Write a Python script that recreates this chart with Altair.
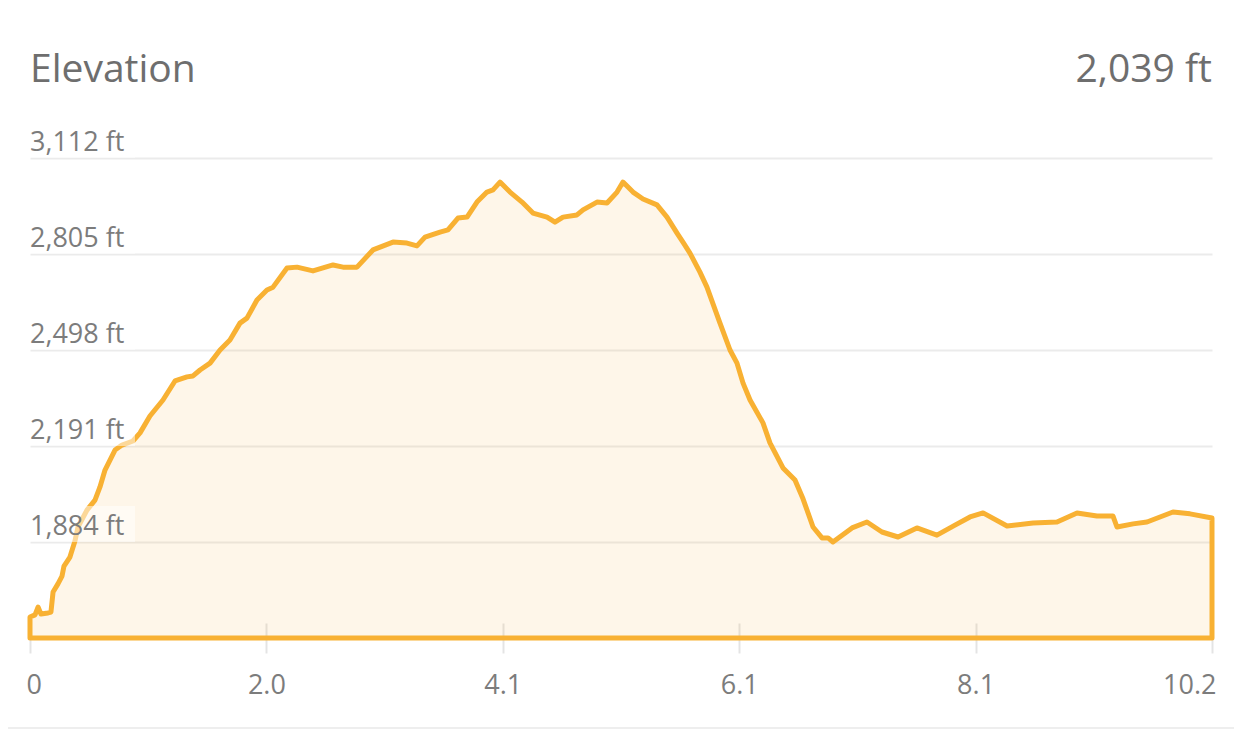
import altair as alt
import pandas as pd

# ---- data ----
DIST = [0.000, 0.043, 0.069, 0.094, 0.155, 0.180, 0.198, 0.240, 0.275, 0.292,
        0.343, 0.386, 0.412, 0.489, 0.558, 0.601, 0.644, 0.687, 0.730, 0.790,
        0.884, 0.945, 1.030, 1.142, 1.245, 1.348, 1.400, 1.460, 1.546, 1.632,
        1.717, 1.803, 1.863, 1.949, 2.035, 2.087, 2.207, 2.293, 2.430, 2.602,
        2.688, 2.808, 2.945, 3.117, 3.237, 3.323, 3.392, 3.521, 3.589, 3.675,
        3.753, 3.838, 3.924, 3.976, 4.036, 4.122, 4.225, 4.319, 4.440, 4.508,
        4.577, 4.697, 4.749, 4.869, 4.955, 5.041, 5.092, 5.178, 5.264, 5.384,
        5.470, 5.556, 5.607, 5.667, 5.753, 5.813, 5.925, 6.011, 6.071, 6.123,
        6.183, 6.294, 6.354, 6.466, 6.569, 6.638, 6.724, 6.801, 6.853, 6.895,
        7.059, 7.187, 7.316, 7.454, 7.616, 7.788, 7.943, 8.072, 8.184, 8.390,
        8.613, 8.819, 8.991, 9.162, 9.300, 9.334, 9.472, 9.592, 9.815, 9.961,
        10.150]
ELEV = [1644, 1651, 1676, 1654, 1657, 1660, 1724, 1750, 1775, 1807,
        1836, 1887, 1932, 1986, 2018, 2060, 2114, 2146, 2178, 2194,
        2207, 2233, 2287, 2338, 2399, 2412, 2415, 2434, 2456, 2498,
        2530, 2584, 2600, 2658, 2690, 2699, 2760, 2763, 2751, 2770,
        2763, 2763, 2818, 2843, 2840, 2831, 2859, 2875, 2882, 2920,
        2923, 2971, 3003, 3010, 3035, 3003, 2971, 2936, 2923, 2907,
        2923, 2930, 2946, 2971, 2968, 3003, 3035, 3003, 2981, 2962,
        2923, 2872, 2843, 2808, 2747, 2699, 2584, 2498, 2456, 2392,
        2338, 2265, 2201, 2121, 2082, 2022, 1932, 1897, 1897, 1884,
        1929, 1948, 1916, 1900, 1929, 1906, 1938, 1964, 1977, 1935,
        1945, 1948, 1977, 1967, 1967, 1932, 1942, 1948, 1980, 1974,
        1961]

Y_TICKS = [1884, 2191, 2498, 2805, 3112]
Y_LABELS = ["1,884 ft", "2,191 ft", "2,498 ft", "2,805 ft", "3,112 ft"]
X_TICKS = [0, 2.03, 4.06, 6.09, 8.12, 10.15]
X_LABELS = ["0", "2.0", "4.1", "6.1", "8.1", "10.2"]
Y_MIN = 1577
Y_MAX = 3112
X_MAX = 10.15
TITLE = "Elevation"
SUMMARY = "2,039 ft"

# ---- styling ----
FONT = "Open Sans"
WEIGHT = 400
ORANGE = "#f8b133"
TEXT_DARK = "#6e6e6e"
TEXT_LIGHT = "#7c7c7c"
W, H = 1182, 480

df = pd.DataFrame({"dist": DIST, "elev": ELEV})
lab = pd.DataFrame({"elev": Y_TICKS, "label": Y_LABELS})

x_expr = "[%s][indexof([%s], datum.value)]" % (
    ",".join("'%s'" % s for s in X_LABELS),
    ",".join(repr(v) for v in X_TICKS),
)

x_scale = alt.Scale(domain=[0, X_MAX], nice=False, zero=False)
y_scale = alt.Scale(domain=[Y_MIN, Y_MAX], nice=False, zero=False)

area = alt.Chart(df).mark_area(
    fill=ORANGE, fillOpacity=0.11, stroke=ORANGE, strokeWidth=5,
    strokeJoin="round", strokeCap="round",
).encode(
    x=alt.X("dist:Q", scale=x_scale, axis=alt.Axis(
        values=X_TICKS, labelExpr=x_expr, orient="bottom", offset=-15,
        tickSize=30, tickColor="#e4e4e4", tickWidth=2, domain=False, grid=False,
        labelFont=FONT, labelFontSize=27, labelFontWeight=WEIGHT,
        labelColor=TEXT_LIGHT,
        labelPadding=40, labelBaseline="alphabetic",
        labelFlush=True, labelFlushOffset=4, title=None)),
    y=alt.Y("elev:Q", scale=y_scale, axis=alt.Axis(
        values=Y_TICKS, grid=True, gridColor="#ebebeb", gridWidth=2,
        labels=False, ticks=False, domain=False, title=None)),
    y2=alt.datum(Y_MIN),
)

boxes = alt.Chart(lab).mark_rect(
    fill="white", opacity=0.5, y2Offset=-36,
).encode(
    x=alt.value(0), x2=alt.value(105),
    y=alt.Y("elev:Q", scale=y_scale), y2=alt.Y2("elev"),
)

ylabels = alt.Chart(lab).mark_text(
    align="left", baseline="alphabetic", dy=-7, font=FONT, fontSize=27,
    fontWeight=WEIGHT, color=TEXT_LIGHT,
).encode(
    x=alt.value(0), y=alt.Y("elev:Q", scale=y_scale), text="label:N",
)

title = alt.Chart(pd.DataFrame({"t": [TITLE]})).mark_text(
    align="left", baseline="alphabetic", font=FONT, fontSize=39,
    fontWeight=WEIGHT, color=TEXT_DARK,
).encode(x=alt.value(0), y=alt.value(-76), text="t:N")

summary = alt.Chart(pd.DataFrame({"t": [SUMMARY]})).mark_text(
    align="right", baseline="alphabetic", font=FONT, fontSize=39,
    fontWeight=WEIGHT, color=TEXT_DARK,
).encode(x=alt.value(W), y=alt.value(-76), text="t:N")

sep = alt.Chart(pd.DataFrame({"t": [0]})).mark_rule(
    color="#eeeeee", strokeWidth=2,
).encode(x=alt.value(-22), x2=alt.value(W + 22), y=alt.value(570))

chart = alt.layer(area, boxes, ylabels, title, summary, sep).properties(
    width=W, height=H,
    padding={"left": 22, "top": 150, "right": 22, "bottom": 100},
    autosize=alt.AutoSizeParams(type="none"),
    background="white",
).configure_view(stroke=None)

chart.save("out.html", embed_options={"renderer": "svg", "actions": False})
